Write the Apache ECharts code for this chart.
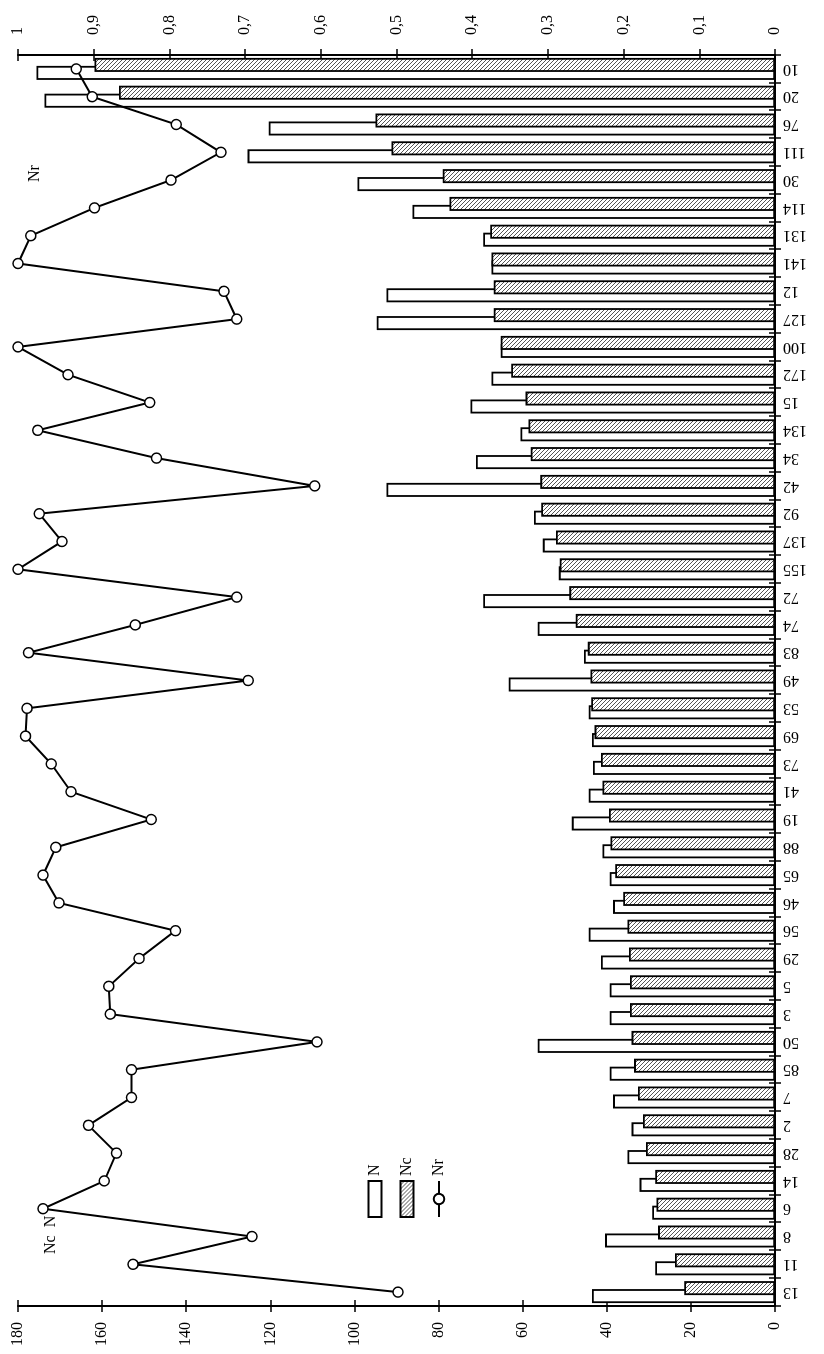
<!DOCTYPE html>
<html>
<head>
<meta charset="utf-8">
<title>N, Nc, Nr</title>
<script src="https://cdn.jsdelivr.net/npm/echarts@6/dist/echarts.min.js"></script>
<style>
  html, body { margin: 0; padding: 0; background: #fff; }
  body { width: 824px; height: 1354px; overflow: hidden; position: relative; }
  /* the chart is laid out landscape and turned a quarter turn to the left */
  #chart {
    position: absolute; left: 0; top: 0;
    width: 1354px; height: 824px;
    transform-origin: 0 0;
    transform: translateY(1354px) rotate(-90deg);
  }
</style>
</head>
<body>
<div id="chart"></div>
<script>
// sample numbers, left to right
const categories = ['13', '11', '8', '6', '14', '28', '2', '7', '85', '50', '3', '5', '29', '56', '46',
  '65', '88', '19', '41', '73', '69', '53', '49', '83', '74', '72', '155', '137', '92', '42',
  '34', '134', '15', '172', '100', '127', '12', '141', '131', '114', '30', '111', '76', '20', '10'];

const nValues = [43.5, 28.5, 40.4, 29.2, 32.2, 35.1, 34.1, 38.5, 39.3, 56.4, 39.3, 39.3, 41.4, 44.3, 38.5,
  39.3, 41, 48.3, 44.3, 43.3, 43.5, 44.3, 63.3, 45.4, 56.4, 69.4, 51.4, 55.2, 57.3, 92.4,
  71.1, 60.5, 72.4, 67.4, 65.2, 94.7, 92.4, 67.4, 69.4, 86.2, 99.3, 125.4, 120.4, 173.7, 175.6];

const ncValues = [21.6, 23.8, 27.8, 28.2, 28.5, 30.7, 31.4, 32.6, 33.5, 34.1, 34.5, 34.5, 34.7, 35.1, 36.1,
  38, 39.1, 39.5, 41, 41.4, 42.9, 43.7, 43.9, 44.5, 47.4, 48.9, 51.2, 52.1, 55.6, 55.8,
  58.1, 58.6, 59.3, 62.7, 65.2, 66.9, 66.9, 67.4, 67.7, 77.4, 79, 91.2, 95, 156, 161.8];

const nrValues = [0.498, 0.848, 0.691, 0.967, 0.886, 0.87, 0.907, 0.85, 0.85, 0.605, 0.878, 0.88, 0.84, 0.792, 0.946,
  0.967, 0.95, 0.824, 0.93, 0.956, 0.99, 0.988, 0.696, 0.986, 0.845, 0.711, 1.0, 0.942, 0.972, 0.608,
  0.817, 0.974, 0.826, 0.934, 1.0, 0.711, 0.728, 1.0, 0.983, 0.899, 0.798, 0.732, 0.791, 0.902, 0.923];

const FONT = 'Liberation Serif';

// diagonal hatch for the Nc bars
function hatch() {
  const c = document.createElement('canvas');
  c.width = 4; c.height = 4;
  const ctx = c.getContext('2d');
  ctx.fillStyle = '#fff';
  ctx.fillRect(0, 0, 4, 4);
  ctx.strokeStyle = '#555';
  ctx.lineWidth = 1;
  ctx.beginPath();
  ctx.moveTo(-1, -1); ctx.lineTo(5, 5);
  ctx.moveTo(-1, 3); ctx.lineTo(1, 5);
  ctx.moveTo(3, -1); ctx.lineTo(5, 1);
  ctx.stroke();
  return c;
}

const chart = echarts.init(document.getElementById('chart'));

const tickStyle = { color: '#000', width: 1.5 };
const labelStyle = { color: '#000', fontFamily: FONT, fontSize: 16 };

function valueAxis(max, interval, position, inside, margin, fmt) {
  return {
    type: 'value', min: 0, max: max, interval: interval, position: position,
    axisLine: { show: !inside, lineStyle: { color: '#000', width: 2 } },
    axisTick: { show: true, inside: inside, length: 6, lineStyle: tickStyle },
    axisLabel: Object.assign({ show: !inside, margin: margin, formatter: fmt }, labelStyle),
    splitLine: { show: false }
  };
}

function catAxis(inside) {
  return {
    type: 'category', data: categories, position: 'bottom',
    axisLine: { show: !inside, lineStyle: { color: '#000', width: 2 } },
    axisTick: { show: true, inside: inside, length: 6, lineStyle: tickStyle },
    axisLabel: Object.assign({ show: !inside, rotate: 90, margin: 8, interval: 0 }, labelStyle)
  };
}

const commaFmt = v => (v === 0 || v === 1) ? String(v) : v.toFixed(1).replace('.', ',');

const option = {
  backgroundColor: '#fff',
  animation: false,
  grid: { left: 48, right: 55, top: 18, bottom: 49 },
  legend: {
    orient: 'vertical', left: 131, top: 362,
    itemWidth: 36, itemHeight: 13, itemGap: 16,
    textStyle: { color: '#000', fontFamily: FONT, fontSize: 16 },
    data: [
      { name: 'N', icon: 'rect' },
      { name: 'Nc', icon: 'rect' },
      { name: 'Nr' }
    ]
  },
  xAxis: [catAxis(false), catAxis(true)],
  yAxis: [
    valueAxis(180, 20, 'left', false, 16),
    valueAxis(180, 20, 'left', true, 16),
    valueAxis(1, 0.1, 'right', false, 20, commaFmt),
    valueAxis(1, 0.1, 'right', true, 20, commaFmt)
  ],
  graphic: [
    { type: 'text', left: 100, top: 43, z: 0,
      style: { text: 'Nc  N', fill: '#000', font: '16px "' + FONT + '"' } },
    { type: 'text', left: 1172, top: 27, z: 0,
      style: { text: 'Nr', fill: '#000', font: '16px "' + FONT + '"' } }
  ],
  series: [
    {
      name: 'N', type: 'bar', xAxisIndex: 0, yAxisIndex: 0,
      data: nValues, barWidth: 14, barGap: '-43%',
      itemStyle: { color: '#fff', borderColor: '#000', borderWidth: 1.8 }
    },
    {
      name: 'Nc', type: 'bar', xAxisIndex: 0, yAxisIndex: 0,
      data: ncValues, barWidth: 14, barGap: '-43%',
      itemStyle: { color: { image: hatch(), repeat: 'repeat' }, borderColor: '#000', borderWidth: 1.8 }
    },
    {
      name: 'Nr', type: 'line', xAxisIndex: 0, yAxisIndex: 2,
      data: nrValues, symbol: 'circle', symbolSize: 10, z: 5,
      lineStyle: { color: '#000', width: 2 },
      itemStyle: { color: '#fff', borderColor: '#000', borderWidth: 1.5 }
    }
  ]
};

chart.setOption(option);
</script>
</body>
</html>
